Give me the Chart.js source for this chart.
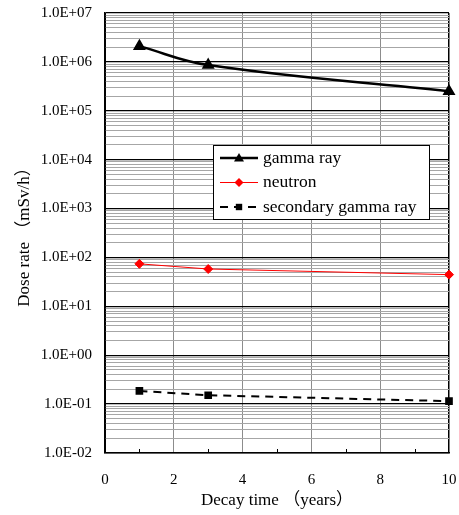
<!DOCTYPE html>
<html>
<head>
<meta charset="utf-8">
<script src="https://cdn.jsdelivr.net/npm/chart.js@4/dist/chart.umd.min.js"></script>
<style>
  html, body { margin: 0; padding: 0; background: #fff; }
  #wrap { width: 459px; height: 515px; }
</style>
</head>
<body>
<div id="wrap"><canvas id="myChart" width="459" height="515"></canvas></div>
<script>
var ctx = document.getElementById('myChart').getContext('2d');

// decay time along the x-axis
var years = [1, 3, 10];

// dose rates (mSv/h)
var gammaRay = [2.1e6, 8.6e5, 2.5e5];
var neutron = [74, 58, 44.5];
var secondaryGamma = [0.186, 0.152, 0.115];

// y-axis decades, 1E-02 .. 1E+07
var decades = [-2, -1, 0, 1, 2, 3, 4, 5, 6, 7];
var xTicks = [0, 2, 4, 6, 8, 10];
var xMinorTicks = [1, 3, 5, 7, 9];

var serif = "'Liberation Serif', 'Times New Roman', 'Noto Sans CJK JP', serif";

function points(ys) {
    return years.map(function (x, i) { return { x: x, y: ys[i] }; });
}

function isDecade(v) {
    var l = Math.log10(v);
    return Math.abs(l - Math.round(l)) < 1e-9;
}

function sci(v) {
    var e = Math.round(Math.log10(v));
    var s = e < 0 ? '-' : '+';
    var n = Math.abs(e);
    return '1.0E' + s + (n < 10 ? '0' : '') + n;
}

// legend box drawn inside the plot, and the little odd-year ticks
var extras = {
    id: 'extras',
    afterDatasetsDraw: function (chart) {
        var c = chart.ctx;
        var xs = chart.scales.x;
        var bottom = chart.chartArea.bottom;
        c.save();
        c.strokeStyle = '#000';
        c.lineWidth = 1;
        xMinorTicks.forEach(function (v) {
            var px = Math.round(xs.getPixelForValue(v)) + 0.5;
            c.beginPath();
            c.moveTo(px, bottom);
            c.lineTo(px, bottom - 4);
            c.stroke();
        });

        var bx = 213.5, by = 145.5, bw = 216, bh = 74;
        c.fillStyle = '#fff';
        c.fillRect(bx, by, bw, bh);
        c.strokeRect(bx, by, bw, bh);
        c.font = '17.5px ' + serif;
        c.textBaseline = 'middle';
        chart.data.datasets.forEach(function (ds, i) {
            var ry = 158 + i * 24.5;
            c.strokeStyle = ds.borderColor;
            c.lineWidth = ds.borderWidth;
            c.setLineDash(ds.borderDash || []);
            c.beginPath();
            c.moveTo(220, ry);
            c.lineTo(258, ry);
            c.stroke();
            c.setLineDash([]);
            c.fillStyle = ds.pointBackgroundColor;
            var r = ds.pointRadius;
            c.beginPath();
            if (ds.pointStyle === 'triangle') {
                c.moveTo(239, ry - r);
                c.lineTo(239 + r, ry + r * 0.7);
                c.lineTo(239 - r, ry + r * 0.7);
            } else if (ds.pointStyle === 'rectRot') {
                c.moveTo(239, ry - r);
                c.lineTo(239 + r, ry);
                c.lineTo(239, ry + r);
                c.lineTo(239 - r, ry);
            } else {
                c.rect(239 - r * 0.8, ry - r * 0.8, r * 1.6, r * 1.6);
            }
            c.closePath();
            c.fill();
            c.fillStyle = '#000';
            c.fillText(ds.label, 263, ry);
        });
        c.restore();
    }
};

var myChart = new Chart(ctx, {
    type: 'line',
    data: {
        datasets: [{
            label: 'gamma ray',
            data: points(gammaRay),
            borderColor: '#000',
            borderWidth: 2.5,
            pointStyle: 'triangle',
            pointRadius: 5,
            pointBackgroundColor: '#000',
            pointBorderColor: '#000',
            tension: 0.4,
            clip: false
        },
        {
            label: 'neutron',
            data: points(neutron),
            borderColor: '#ff0000',
            borderWidth: 1,
            pointStyle: 'rectRot',
            pointRadius: 4.5,
            pointBackgroundColor: '#ff0000',
            pointBorderColor: '#ff0000',
            clip: false
        },
        {
            label: 'secondary gamma ray',
            data: points(secondaryGamma),
            borderColor: '#000',
            borderWidth: 2,
            borderDash: [8, 6],
            pointStyle: 'rect',
            pointRadius: 4,
            pointBackgroundColor: '#000',
            pointBorderColor: '#000',
            clip: false
        }]
    },
    options: {
        responsive: false,
        animation: false,
        layout: { padding: { top: 13, right: 10, left: 0, bottom: 0 } },
        plugins: {
            legend: { display: false },
            tooltip: { enabled: false }
        },
        scales: {
            x: {
                type: 'linear',
                min: 0,
                max: 10,
                afterBuildTicks: function (scale) {
                    scale.ticks = xTicks.map(function (v) { return { value: v }; });
                },
                afterFit: function (scale) {
                    scale.height = 62;
                    scale.paddingLeft = 0;
                    scale.paddingRight = 0;
                },
                grid: {
                    drawTicks: false,
                    color: function (c) {
                        return (c.tick && (c.tick.value === 10 || c.tick.value === 0)) ? '#000' : '#8c8c8c';
                    },
                    lineWidth: function (c) {
                        return (c.tick && c.tick.value === 10) ? 1.5 : 1;
                    }
                },
                border: { color: '#000', width: 1.5 },
                ticks: {
                    padding: 18,
                    color: '#000',
                    font: { family: serif, size: 15 }
                },
                title: {
                    display: true,
                    text: 'Decay time （years）',
                    color: '#000',
                    font: { family: serif, size: 17 },
                    padding: { top: 0 }
                }
            },
            y: {
                type: 'logarithmic',
                min: 1e-2,
                max: 1e7,
                afterBuildTicks: function (scale) {
                    var t = [];
                    decades.forEach(function (d) {
                        for (var m = 1; m <= 9; m++) {
                            if (d === 7 && m > 1) break;
                            t.push({ value: m * Math.pow(10, d) });
                        }
                    });
                    scale.ticks = t;
                },
                afterFit: function (scale) {
                    scale.width = 105;
                    scale.paddingTop = 0;
                    scale.paddingBottom = 0;
                },
                grid: {
                    drawTicks: false,
                    color: function (c) {
                        return (c.tick && isDecade(c.tick.value)) ? '#000' : '#a6a6a6';
                    },
                    lineWidth: function (c) {
                        return (c.tick && isDecade(c.tick.value)) ? 1.3 : 1;
                    }
                },
                border: { color: '#000', width: 1.5 },
                ticks: {
                    autoSkip: false,
                    padding: 13,
                    color: '#000',
                    font: { family: serif, size: 15 },
                    callback: function (v) { return isDecade(v) ? sci(v) : ''; }
                },
                title: {
                    display: true,
                    text: 'Dose rate （mSv/h）',
                    color: '#000',
                    font: { family: serif, size: 17 },
                    padding: { top: 14, bottom: 0 }
                }
            }
        }
    },
    plugins: [extras]
});
</script>
</body>
</html>
